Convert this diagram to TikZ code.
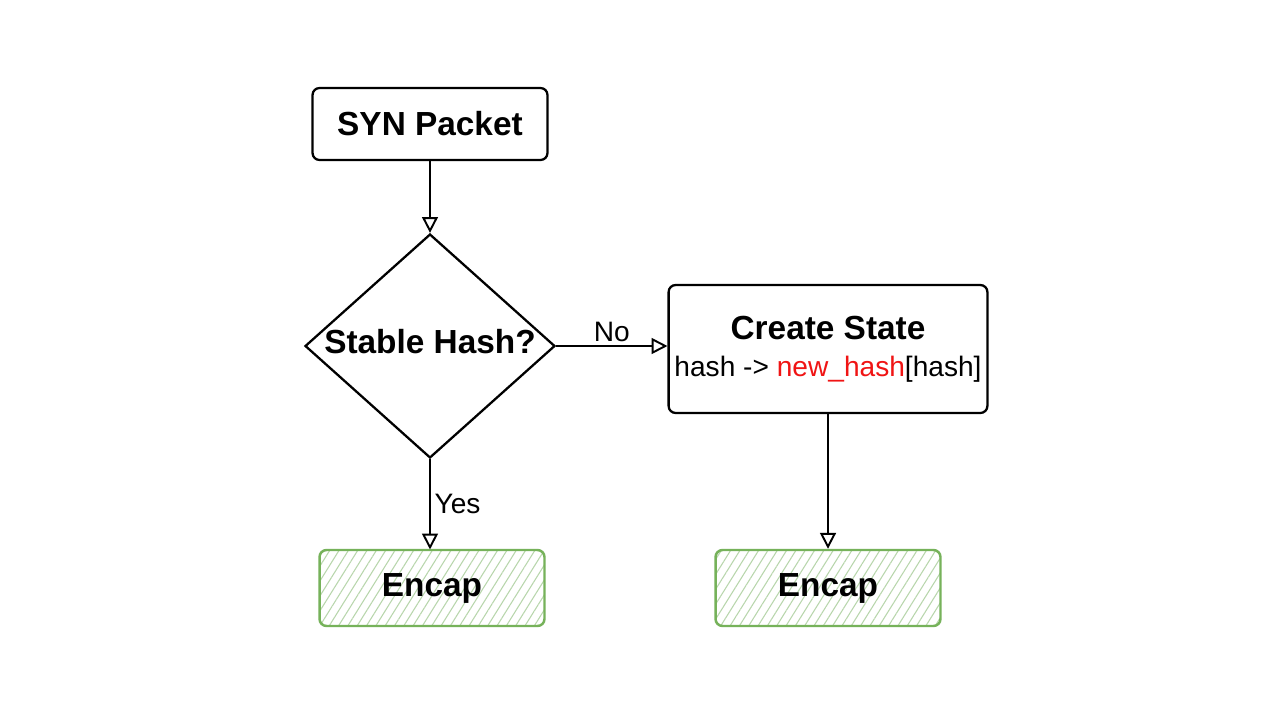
\documentclass[tikz,border=0pt]{standalone}
\usepackage{fontspec}
\setmainfont{Liberation Sans}
\usepackage{xcolor}
\definecolor{leafline}{RGB}{118,178,90}
\definecolor{leafhatch}{RGB}{184,214,172}
\definecolor{hashred}{RGB}{240,20,20}
\usetikzlibrary{shapes.geometric}
\usetikzlibrary{positioning}
\usetikzlibrary{arrows.meta}
\usetikzlibrary{patterns.meta}

\begin{document}
\begin{tikzpicture}[x=0.02cm,y=-0.02cm,
  stepbox/.style={draw,line width=1.3pt,rounded corners=4pt,fill=white,font=\fontsize{19}{23}\selectfont\bfseries},
  decision/.style={draw,diamond,line width=1.3pt,minimum width=5cm,minimum height=4.48cm,inner sep=0pt},
  endbox/.style={draw=leafline,line width=1.4pt,rounded corners=4pt,minimum width=4.5cm,minimum height=1.52cm,
    pattern={Lines[angle=58,distance=4.5pt,line width=0.6pt]},pattern color=leafhatch,font=\fontsize{19}{23}\selectfont\bfseries},
  flow/.style={line width=1.3pt,-{Triangle[open,length=9pt,width=9pt,line width=1.1pt]}},
  tag/.style={font=\fontsize{16}{19}\selectfont,inner sep=2pt}]
\useasboundingbox[fill=white] (0,0) rectangle (1280,720);

\node[stepbox,minimum width=4.7cm,minimum height=1.44cm] (syn) at (430,124) {SYN Packet};
\node[decision] (hash) at (430,346) {};
\node[font=\fontsize{19}{23}\selectfont\bfseries,inner sep=0pt] (hashtxt) at (430,342) {Stable Hash?};
\node[stepbox,minimum width=6.34cm,minimum height=2.56cm,align=center] (state) at (828,349)
  {Create State\\[-2pt]{\fontsize{16}{19}\selectfont\mdseries hash -> \textcolor{hashred}{new\_hash}[hash]}};
\node[endbox] (encapL) at (432,588) {Encap};
\node[endbox] (encapR) at (828,588) {Encap};

\draw[flow] (syn) -- (hash.north);
\draw[flow] (hash.east) -- node[tag,above] (no) {No} (hash.east -| state.west);
\draw[flow] (hash.south) -- node[tag,right] (yes) {Yes} (hash.south |- encapL.north);
\draw[flow] (state.south) -- (encapR.north);
\end{tikzpicture}
\end{document}
